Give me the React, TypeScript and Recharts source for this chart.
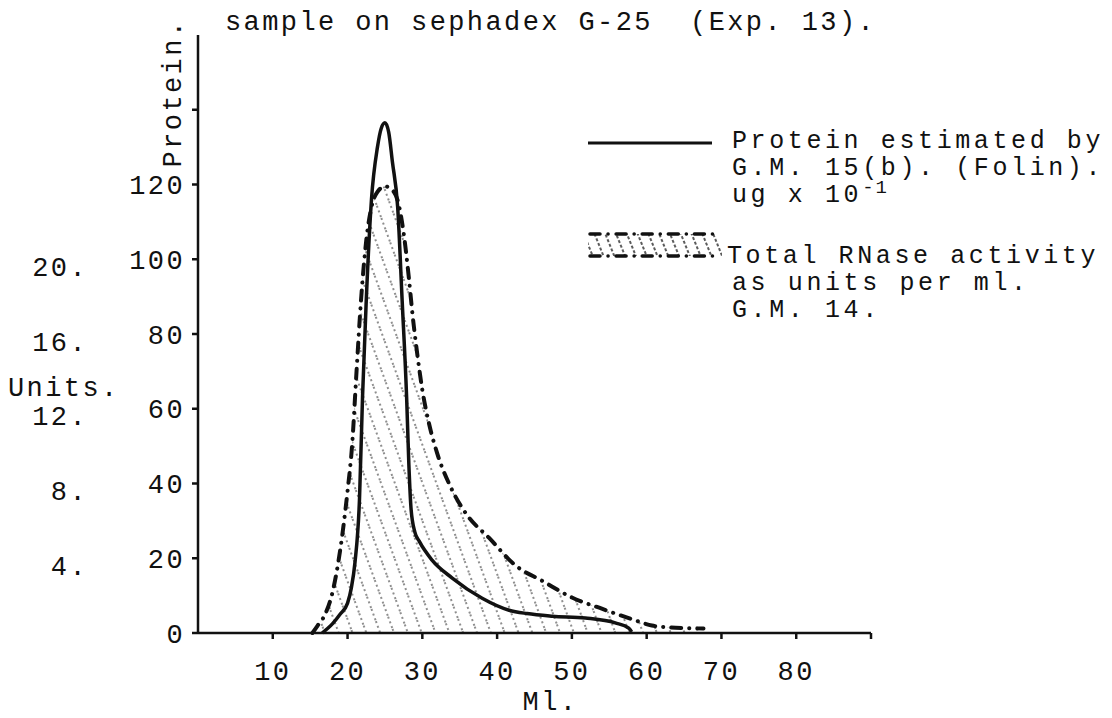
import React from 'react';
import { ComposedChart, Line, Area, XAxis, YAxis } from 'recharts';

// Protein (Folin), ug x 10^-1
const proteinMl = [16.6, 18, 19, 20, 20.5, 21, 21.6, 22, 22.5, 23.2, 24, 24.5, 25, 25.5, 26, 26.7, 27.3, 27.9, 28.2, 28.5, 29, 29.6, 31.3, 34, 38, 41.6, 44, 47.4, 51.8, 55.8, 57.6, 58];
const proteinValues = [0, 2.5, 5, 8, 12, 19, 36, 63, 89, 116, 130, 135, 136.5, 134, 126, 114, 89, 63, 45, 33, 27, 24.5, 19.5, 14.7, 9.3, 6.1, 5.2, 4.5, 4, 2.7, 1.3, 0.3];

// Total RNase activity, units per ml
const rnaseMl = [15.3, 16, 17, 18, 19, 20, 20.6, 21.2, 21.8, 22.5, 23.2, 24, 25, 26, 26.8, 27.5, 28.2, 28.7, 29.3, 30, 30.9, 32, 33.8, 36, 38.9, 42.5, 46, 50, 54, 58.3, 60.7, 63, 65.6, 67.6];
const rnaseUnits = [0, 0.4, 1, 2.2, 4.4, 7.6, 10, 14, 17.8, 21, 22.8, 23.6, 23.9, 23.7, 23, 21.4, 19, 17, 15, 13, 11.2, 9.6, 7.8, 6.3, 5.1, 3.6, 2.8, 1.9, 1.3, 0.7, 0.4, 0.3, 0.26, 0.24];

const mlTicks = [10, 20, 30, 40, 50, 60, 70, 80, 90];
const proteinTicks = [0, 20, 40, 60, 80, 100, 120, 140];
const unitTicks = [4, 8, 12, 16, 20];

const FONT = '"Liberation Mono", "DejaVu Sans Mono", monospace';
const INK = '#111';
const FS = 27;
const LEGEND_FS = 25;

const renderProteinLabel = (props: any) => {
  const vb = props.viewBox;
  const x = vb.x + vb.width - 24;
  const y = vb.y + 58;
  return (
    <text x={x} y={y} transform={`rotate(-90 ${x} ${y})`} textAnchor="middle" dominantBaseline="central"
      fill={INK} fontSize={FS} fontFamily={FONT}>Protein.</text>
  );
};

const renderUnitsLabel = (props: any) => {
  const vb = props.viewBox;
  return (
    <text x={vb.x} y={388} fill={INK} fontSize={FS} fontFamily={FONT}>Units.</text>
  );
};

function LegendBlock() {
  const line = (left: number, top: number, text: React.ReactNode) => (
    <div style={{ position: 'absolute', left, top, whiteSpace: 'pre', lineHeight: '27px', fontSize: LEGEND_FS, letterSpacing: '3.6px' }}>{text}</div>
  );
  return (
    <div style={{ position: 'absolute', left: 572, top: 112, width: 540, height: 220 }}>
      <svg style={{ position: 'absolute', left: 8, top: 18 }} width={124} height={10}>
        <line x1={0} y1={5} x2={124} y2={5} stroke={INK} strokeWidth={3} />
      </svg>
      {line(152, 8, 'Protein estimated by')}
      {line(152, 35, 'G.M. 15(b). (Folin).')}
      {line(152, 62, 'ug x 10')}
      <div style={{ position: 'absolute', left: 152 + 7 * 18.6, top: 58, whiteSpace: 'pre', lineHeight: '20px', fontSize: 19, letterSpacing: '2px' }}>-1</div>
      <svg style={{ position: 'absolute', left: 8, top: 111 }} width={134} height={28}>
        <defs>
          <pattern id="legendHatch" width="10" height="10" patternUnits="userSpaceOnUse" patternTransform="rotate(-22)">
            <line x1="5" y1="0" x2="5" y2="10" stroke="#333" strokeWidth="1.6" strokeDasharray="3 2" />
          </pattern>
        </defs>
        <rect x={0} y={3} width={134} height={22} fill="url(#legendHatch)" />
        <line x1={2} y1={3} x2={132} y2={3} stroke={INK} strokeWidth={3.5} strokeDasharray="10 8 0.1 8" strokeLinecap="round" />
        <line x1={2} y1={25} x2={132} y2={25} stroke={INK} strokeWidth={3.5} strokeDasharray="10 8 0.1 8" strokeLinecap="round" />
      </svg>
      {line(147, 123, 'Total RNase activity')}
      {line(152, 150, 'as units per ml.')}
      {line(152, 177, 'G.M. 14.')}
    </div>
  );
}

export default function App() {
  const proteinData = proteinMl.map((ml, i) => ({ ml, protein: proteinValues[i] }));
  const rnaseData = rnaseMl.map((ml, i) => ({ ml, units: rnaseUnits[i] }));
  const tickStyle = { fill: INK, fontSize: FS, fontFamily: FONT };

  return (
    <div style={{ position: 'relative', width: 1104, height: 710, background: '#fff', fontFamily: FONT, color: INK, letterSpacing: '2.4px' }}>
      <style>{'svg text { letter-spacing: 2.4px; }'}</style>
      <ComposedChart width={1104} height={710} margin={{ top: 27, right: 241, bottom: 0, left: 0 }}>
        <defs>
          <pattern id="rnaseHatch" width="13" height="13" patternUnits="userSpaceOnUse" patternTransform="rotate(-20)">
            <line x1="6" y1="0" x2="6" y2="13" stroke="#444" strokeWidth="1.2" strokeDasharray="2 3" />
          </pattern>
        </defs>
        <XAxis
          type="number"
          dataKey="ml"
          domain={[0, 90]}
          ticks={mlTicks}
          allowDataOverflow
          height={85}
          tickSize={6}
          tickMargin={22}
          tickFormatter={(v) => (v === 90 ? '' : String(v))}
          tick={tickStyle}
          axisLine={{ stroke: INK, strokeWidth: 2.5 }}
          tickLine={{ stroke: INK, strokeWidth: 2.5 }}
          label={{ value: 'Ml.', position: 'insideBottom', offset: 8, dx: 16, fill: INK, fontSize: FS, fontFamily: FONT }}
        />
        <YAxis
          yAxisId="protein"
          type="number"
          domain={[0, 160]}
          ticks={proteinTicks}
          width={110}
          tickSize={6}
          tickMargin={7}
          tickFormatter={(v) => (v === 140 ? '' : String(v))}
          tick={tickStyle}
          axisLine={{ stroke: INK, strokeWidth: 2.5 }}
          tickLine={{ stroke: INK, strokeWidth: 2.5 }}
          label={renderProteinLabel}
        />
        <YAxis
          yAxisId="units"
          type="number"
          domain={[0, 32]}
          ticks={unitTicks}
          width={80}
          tickSize={0}
          tickMargin={0}
          axisLine={false}
          tickLine={false}
          tickFormatter={(v) => `${v}.`}
          tick={{ ...tickStyle, dy: 7 }}
          label={renderUnitsLabel}
        />
        <Area
          yAxisId="units"
          data={rnaseData}
          dataKey="units"
          type="monotone"
          stroke={INK}
          strokeWidth={4}
          strokeDasharray="10 8 0.1 8"
          strokeLinecap="round"
          fill="url(#rnaseHatch)"
          fillOpacity={1}
          dot={false}
          activeDot={false}
          isAnimationActive={false}
        />
        <Line
          yAxisId="protein"
          data={proteinData}
          dataKey="protein"
          type="monotone"
          stroke={INK}
          strokeWidth={3.5}
          dot={false}
          activeDot={false}
          isAnimationActive={false}
        />
      </ComposedChart>
      <div style={{ position: 'absolute', left: 217, top: 0, fontSize: FS, lineHeight: '31px', whiteSpace: 'pre' }}>
        sample on sephadex G-25  (Exp. 13).
      </div>
      <LegendBlock />
    </div>
  );
}
